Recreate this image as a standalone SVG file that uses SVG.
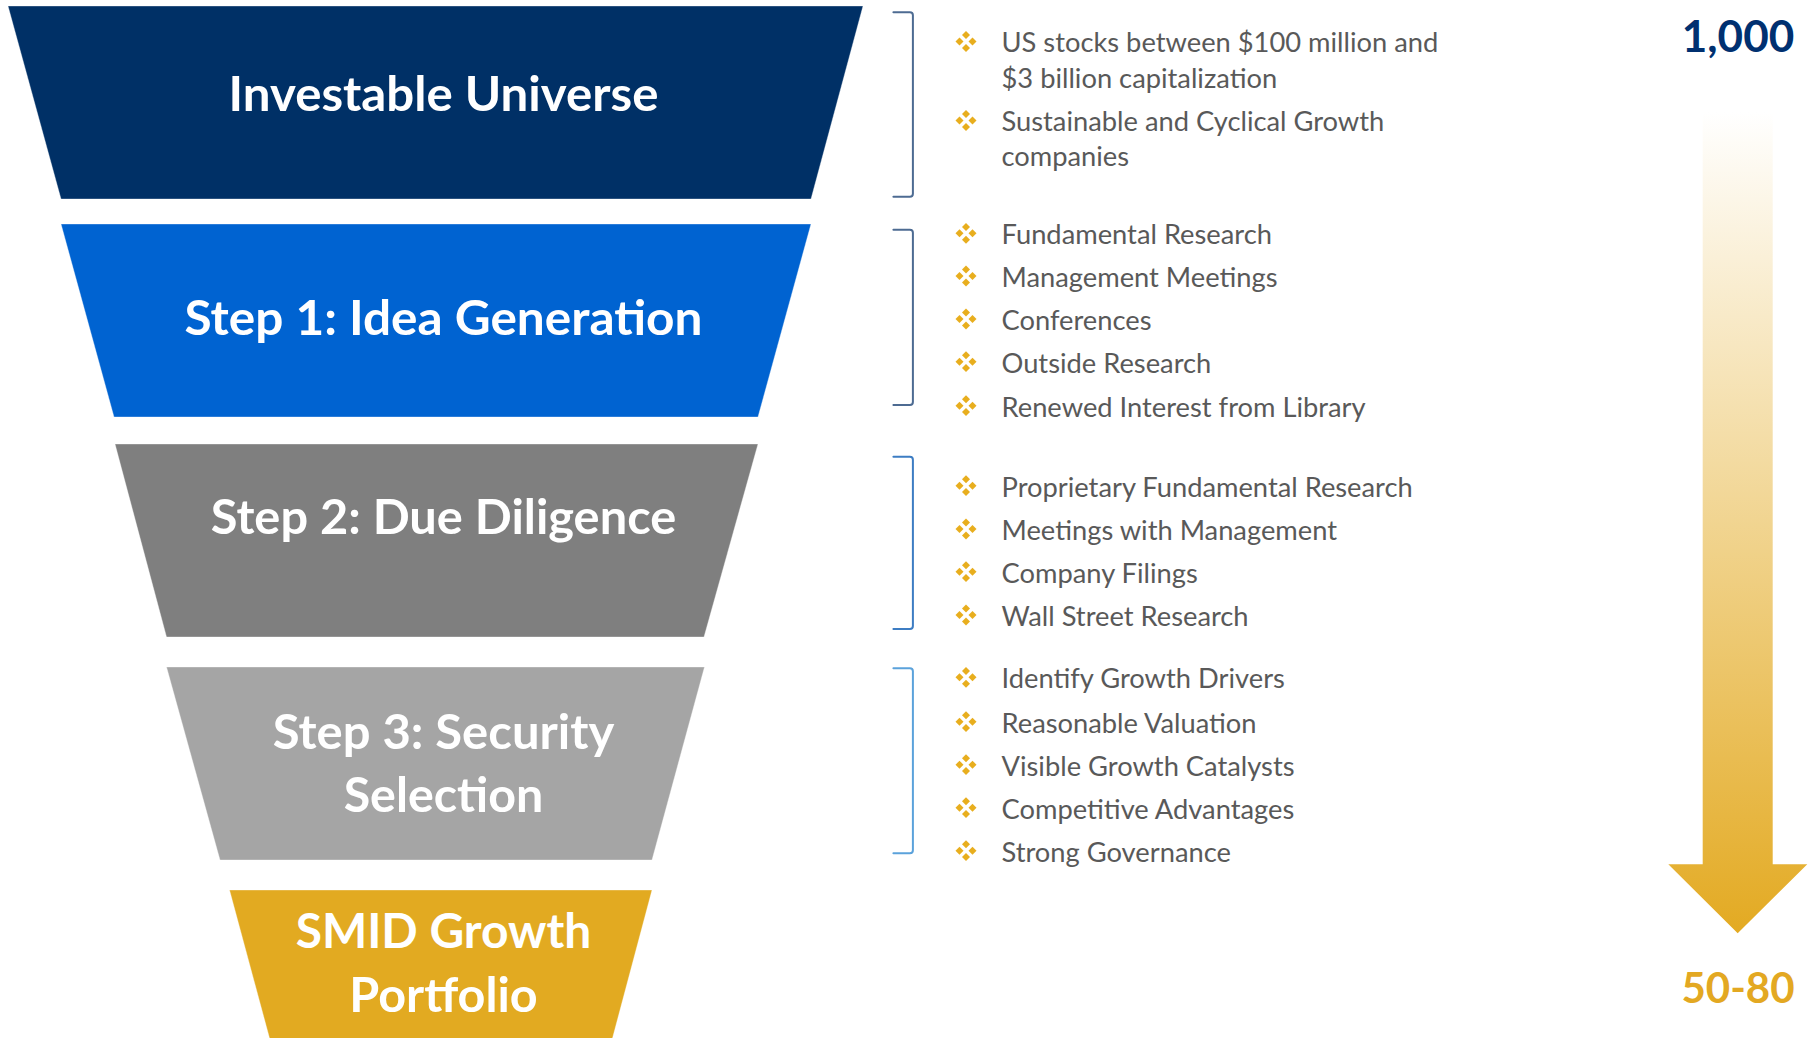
<svg xmlns="http://www.w3.org/2000/svg" xmlns:xlink="http://www.w3.org/1999/xlink" width="1816" height="1038" viewBox="0 0 1816 1038">
  <defs>
    <style>
      .title { font-family: Lato, "Liberation Sans", sans-serif; font-weight: 700; font-size: 48px; fill: #FFFFFF; text-anchor: middle; }
      .item { font-family: Lato, "Liberation Sans", sans-serif; font-weight: 400; font-size: 27.3px; fill: #595959; }
      .count { font-family: Lato, "Liberation Sans", sans-serif; font-weight: 700; text-anchor: middle; }
      .bracket { fill: none; stroke-width: 2; stroke-linecap: round; stroke-linejoin: round; }
      .stage { stroke-width: 1; stroke-opacity: 0.35; stroke: #FFFFFF; }
    </style>
    <!-- four-diamond bullet -->
    <symbol id="bullet" viewBox="-11 -11 22 22" overflow="visible">
      <g fill="#E8AE1E">
        <path d="M0,-10.4 L4,-6.4 L0,-2.4 L-4,-6.4 Z"/>
        <path d="M-6.5,-4 L-2.5,0 L-6.5,4 L-10.5,0 Z"/>
        <path d="M6.5,-4 L10.5,0 L6.5,4 L2.5,0 Z"/>
        <path d="M0,2.4 L4,6.4 L0,10.4 L-4,6.4 Z"/>
      </g>
    </symbol>
    <linearGradient id="funnelArrow" gradientUnits="userSpaceOnUse" x1="0" y1="112" x2="0" y2="933">
      <stop offset="0" stop-color="#FFFFFF"/>
      <stop offset="1" stop-color="#E3AA22"/>
    </linearGradient>
  </defs>

  <rect width="1816" height="1038" fill="#FFFFFF"/>

  <!-- funnel stages -->
  <g id="stage-universe">
    <path class="stage" d="M8,6 L863,6 L811,199 L61,199 Z" fill="#003066"/>
    <text class="title" x="443.5" y="110.7" textLength="430" lengthAdjust="spacingAndGlyphs">Investable Universe</text>
  </g>
  <g id="stage-idea">
    <path class="stage" d="M61,224 L811,224 L758,417 L114,417 Z" fill="#0063D1"/>
    <text class="title" x="443.5" y="335" textLength="518" lengthAdjust="spacingAndGlyphs">Step 1: Idea Generation</text>
  </g>
  <g id="stage-diligence">
    <path class="stage" d="M115,444 L758,444 L704,637 L166.5,637 Z" fill="#7F7F7F"/>
    <text class="title" x="443.5" y="534" textLength="465.5" lengthAdjust="spacingAndGlyphs">Step 2: Due Diligence</text>
  </g>
  <g id="stage-selection">
    <path class="stage" d="M166.5,667 L704.5,667 L652,860 L220,860 Z" fill="#A5A5A5"/>
    <text class="title" x="443.5" y="748.7" textLength="341.6" lengthAdjust="spacingAndGlyphs">Step 3: Security</text>
    <text class="title" x="443.5" y="812" textLength="199.7" lengthAdjust="spacingAndGlyphs">Selection</text>
  </g>
  <g id="stage-portfolio">
    <path class="stage" d="M229.5,890 L652,890 L612,1040 L270,1040 Z" fill="#E2AA21"/>
    <text class="title" x="443.5" y="948.4" textLength="295.7" lengthAdjust="spacingAndGlyphs">SMID Growth</text>
    <text class="title" x="443.5" y="1012.4" textLength="188.5" lengthAdjust="spacingAndGlyphs">Portfolio</text>
  </g>

  <!-- brackets linking each stage to its notes -->
  <g id="connectors">
    <path class="bracket" stroke="#4D6B92" d="M893.4,12.3 L909.9,12.3 Q912.9,12.3 912.9,15.3 L912.9,193.7 Q912.9,196.7 909.9,196.7 L893.4,196.7"/>
    <path class="bracket" stroke="#4D6B92" d="M893.4,229.7 L909.9,229.7 Q912.9,229.7 912.9,232.7 L912.9,402 Q912.9,405 909.9,405 L893.4,405"/>
    <path class="bracket" stroke="#3D7DC3" d="M893.4,456.7 L909.9,456.7 Q912.9,456.7 912.9,459.7 L912.9,626 Q912.9,629 909.9,629 L893.4,629"/>
    <path class="bracket" stroke="#5BA2DB" d="M893.4,668.3 L909.9,668.3 Q912.9,668.3 912.9,671.3 L912.9,850.3 Q912.9,853.3 909.9,853.3 L893.4,853.3"/>
  </g>

  <!-- notes for the investable universe -->
  <g id="notes-universe">
    <use href="#bullet" xlink:href="#bullet" x="955" y="30.5" width="22" height="22"/>
    <text class="item" x="1001.5" y="52.3">US stocks between $100 million and</text>
    <text class="item" x="1001.5" y="88.3">$3 billion capitalization</text>
    <use href="#bullet" xlink:href="#bullet" x="955" y="109.5" width="22" height="22"/>
    <text class="item" x="1001.5" y="131">Sustainable and Cyclical Growth</text>
    <text class="item" x="1001.5" y="165.7">companies</text>
  </g>

  <!-- notes for idea generation -->
  <g id="notes-idea">
    <use href="#bullet" xlink:href="#bullet" x="955" y="222.3" width="22" height="22"/>
    <text class="item" x="1001.5" y="244.3">Fundamental Research</text>
    <use href="#bullet" xlink:href="#bullet" x="955" y="265" width="22" height="22"/>
    <text class="item" x="1001.5" y="287">Management Meetings</text>
    <use href="#bullet" xlink:href="#bullet" x="955" y="308" width="22" height="22"/>
    <text class="item" x="1001.5" y="330">Conferences</text>
    <use href="#bullet" xlink:href="#bullet" x="955" y="350.7" width="22" height="22"/>
    <text class="item" x="1001.5" y="372.7">Outside Research</text>
    <use href="#bullet" xlink:href="#bullet" x="955" y="394.7" width="22" height="22"/>
    <text class="item" x="1001.5" y="416.7">Renewed Interest from Library</text>
  </g>

  <!-- notes for due diligence -->
  <g id="notes-diligence">
    <use href="#bullet" xlink:href="#bullet" x="955" y="474.7" width="22" height="22"/>
    <text class="item" x="1001.5" y="496.7">Proprietary Fundamental Research</text>
    <use href="#bullet" xlink:href="#bullet" x="955" y="518" width="22" height="22"/>
    <text class="item" x="1001.5" y="540">Meetings with Management</text>
    <use href="#bullet" xlink:href="#bullet" x="955" y="560.7" width="22" height="22"/>
    <text class="item" x="1001.5" y="582.7">Company Filings</text>
    <use href="#bullet" xlink:href="#bullet" x="955" y="604" width="22" height="22"/>
    <text class="item" x="1001.5" y="626">Wall Street Research</text>
  </g>

  <!-- notes for security selection -->
  <g id="notes-selection">
    <use href="#bullet" xlink:href="#bullet" x="955" y="666.3" width="22" height="22"/>
    <text class="item" x="1001.5" y="688.3">Identify Growth Drivers</text>
    <use href="#bullet" xlink:href="#bullet" x="955" y="710.7" width="22" height="22"/>
    <text class="item" x="1001.5" y="732.7">Reasonable Valuation</text>
    <use href="#bullet" xlink:href="#bullet" x="955" y="753.7" width="22" height="22"/>
    <text class="item" x="1001.5" y="775.7">Visible Growth Catalysts</text>
    <use href="#bullet" xlink:href="#bullet" x="955" y="796.7" width="22" height="22"/>
    <text class="item" x="1001.5" y="818.7">Competitive Advantages</text>
    <use href="#bullet" xlink:href="#bullet" x="955" y="839.7" width="22" height="22"/>
    <text class="item" x="1001.5" y="861.7">Strong Governance</text>
  </g>

  <!-- narrowing count arrow -->
  <g id="count-arrow">
    <text class="count" x="1738" y="51.7" font-size="44" fill="#003070">1,000</text>
    <path d="M1702.7,112 L1772.7,112 L1772.7,864.3 L1807.3,864.3 L1737.7,933.3 L1668.3,864.3 L1702.7,864.3 Z" fill="url(#funnelArrow)"/>
    <text class="count" x="1738" y="1003.3" font-size="42" fill="#E3A822">50-80</text>
  </g>
</svg>
